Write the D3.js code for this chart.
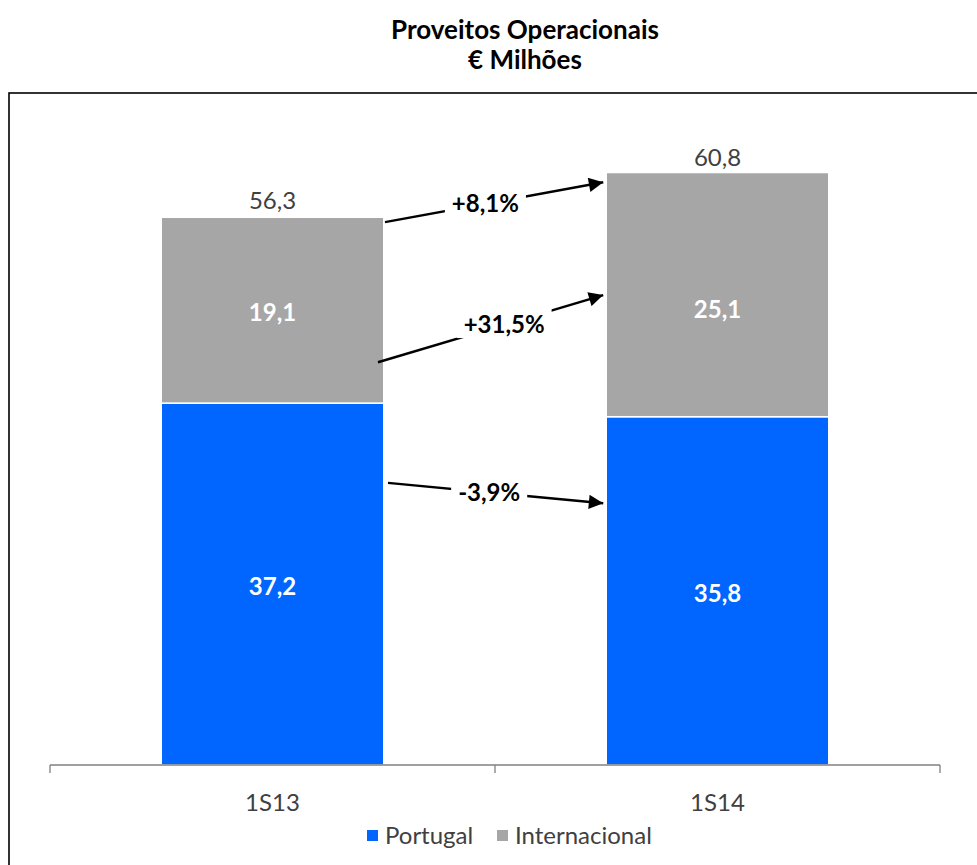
<!DOCTYPE html>
<html lang="pt">
<head>
  <meta charset="UTF-8">
  <title>Proveitos Operacionais</title>
  <style>
    body { margin: 0; background: #fff; }
    svg { display: block; font-family: Lato, "Open Sans", sans-serif; }
  </style>
</head>
<body>
  <script src="https://d3js.org/d3.v7.min.js"></script>
  <script>
    // dados
    const periods = ['1S13', '1S14']
    const portugal = [37.2, 35.8]
    const internacional = [19.1, 25.1]
    const totals = [56.3, 60.8]
    const seriesNames = ['Portugal', 'Internacional']
    const seriesColors = ['#0066ff', '#a6a6a6']
    // variações: rótulo, valor de partida (1S13) e de chegada (1S14) das setas
    const changeLabels = ['+8,1%', '+31,5%', '-3,9%']
    const changeFrom = [55.8, 41.4, 29.0]
    const changeTo = [59.9, 48.3, 26.9]

    const fmt = v => v.toFixed(1).replace('.', ',')

    const width = 977, height = 865

    const svg = d3.select('body').append('svg')
      .attr('width', width)
      .attr('height', height)

    // marker da seta
    svg.append('defs').append('marker')
      .attr('id', 'arrow')
      .attr('viewBox', '0 0 10 10')
      .attr('refX', 10).attr('refY', 5)
      .attr('markerWidth', 7).attr('markerHeight', 6)
      .attr('markerUnits', 'strokeWidth')
      .attr('orient', 'auto')
      .append('path')
      .attr('d', 'M0,0 L10,5 L0,10 Z')
      .attr('fill', '#000')

    // título
    svg.append('text')
      .attr('x', 525).attr('y', 39)
      .attr('text-anchor', 'middle')
      .attr('font-weight', 'bold').attr('font-size', 26)
      .text('Proveitos Operacionais')
    svg.append('text')
      .attr('x', 525).attr('y', 69)
      .attr('text-anchor', 'middle')
      .attr('font-weight', 'bold').attr('font-size', 26)
      .text('€ Milhões')

    // moldura do gráfico (sai da imagem à direita e em baixo)
    svg.append('rect')
      .attr('x', 9).attr('y', 93)
      .attr('width', 1000).attr('height', 800)
      .attr('fill', 'none')
      .attr('stroke', '#000').attr('stroke-width', 1.6)

    const x = d3.scaleBand()
      .domain(periods)
      .range([50, 940])
      .paddingInner(0.5)
      .paddingOuter(0.25)

    const y = d3.scaleLinear()
      .domain([0, 70])
      .range([765, 84])

    const rows = periods.map((p, i) => ({ period: p, Portugal: portugal[i], Internacional: internacional[i] }))
    const stacked = d3.stack().keys(seriesNames)(rows)

    svg.append('g')
      .selectAll('g')
      .data(stacked)
      .join('g')
      .attr('fill', (d, i) => seriesColors[i])
      .selectAll('rect')
      .data(d => d)
      .join('rect')
      .attr('x', d => x(d.data.period))
      .attr('width', x.bandwidth())
      .attr('y', d => y(d[1]))
      .attr('height', d => y(d[0]) - y(d[1]))
      .attr('stroke', '#fff')
      .attr('stroke-width', 1.5)

    // valores dentro das barras (o 25,1 está deslocado para baixo no original)
    const labelShift = [[3, 3], [2, 15]]
    svg.append('g')
      .selectAll('g')
      .data(stacked)
      .join('g')
      .selectAll('text')
      .data((d, si) => d.map((v, i) => ({ v, shift: labelShift[si][i] })))
      .join('text')
      .attr('x', d => x(d.v.data.period) + x.bandwidth() / 2)
      .attr('y', d => y((d.v[0] + d.v[1]) / 2) + d.shift)
      .attr('dy', '0.35em')
      .attr('text-anchor', 'middle')
      .attr('fill', '#fff')
      .attr('font-weight', 'bold')
      .attr('font-size', 24)
      .text(d => fmt(d.v[1] - d.v[0]))

    // totais
    svg.append('g')
      .selectAll('text')
      .data(totals)
      .join('text')
      .attr('x', (d, i) => x(periods[i]) + x.bandwidth() / 2)
      .attr('y', d => y(d) - 8)
      .attr('text-anchor', 'middle')
      .attr('fill', '#404040')
      .attr('font-size', 24)
      .text(d => fmt(d))

    // eixo x
    const axis = svg.append('g')
      .attr('transform', 'translate(0,765)')
    axis.append('line')
      .attr('x1', 50).attr('x2', 940)
      .attr('stroke', '#808080').attr('stroke-width', 1.3)
    axis.selectAll('line.tick')
      .data([50, x(periods[1]) - x.step() * x.paddingInner() / 2, 940])
      .join('line')
      .attr('class', 'tick')
      .attr('x1', d => d).attr('x2', d => d)
      .attr('y1', 0).attr('y2', 8)
      .attr('stroke', '#808080').attr('stroke-width', 1.3)
    axis.selectAll('text')
      .data(periods)
      .join('text')
      .attr('x', d => x(d) + x.bandwidth() / 2)
      .attr('y', 46)
      .attr('text-anchor', 'middle')
      .attr('fill', '#404040')
      .attr('font-size', 24)
      .text(d => d)

    // setas de variação
    const startX = [385, 378, 388]
    const endX = x(periods[1]) - 3
    const labelT = [0.46, 0.56, 0.47]
    const arrows = svg.append('g')
    changeLabels.forEach((lab, i) => {
      const x1 = startX[i], y1 = y(changeFrom[i])
      const x2 = endX, y2 = y(changeTo[i])
      arrows.append('line')
        .attr('x1', x1).attr('y1', y1)
        .attr('x2', x2).attr('y2', y2)
        .attr('stroke', '#000').attr('stroke-width', 2.4)
        .attr('marker-end', 'url(#arrow)')
      const lx = x1 + (x2 - x1) * labelT[i]
      const ly = y1 + (y2 - y1) * labelT[i]
      const t = arrows.append('text')
        .attr('x', lx).attr('y', ly)
        .attr('dy', '0.35em')
        .attr('text-anchor', 'middle')
        .attr('font-weight', 'bold')
        .attr('font-size', 24)
        .text(lab)
      const bb = t.node().getBBox()
      arrows.insert('rect', () => t.node())
        .attr('x', bb.x - 7).attr('y', bb.y)
        .attr('width', bb.width + 14).attr('height', bb.height)
        .attr('fill', '#fff')
    })

    // legenda
    const legend = svg.append('g').attr('transform', 'translate(367,836)')
    const items = [{ name: seriesNames[0], color: seriesColors[0], x: 0 },
                   { name: seriesNames[1], color: seriesColors[1], x: 130 }]
    const li = legend.selectAll('g').data(items).join('g')
      .attr('transform', d => `translate(${d.x},0)`)
    li.append('rect')
      .attr('x', 0).attr('y', -6)
      .attr('width', 11).attr('height', 11)
      .attr('fill', d => d.color)
    li.append('text')
      .attr('x', 18).attr('dy', '0.35em')
      .attr('fill', '#404040')
      .attr('font-size', 24)
      .text(d => d.name)
  </script>
</body>
</html>
